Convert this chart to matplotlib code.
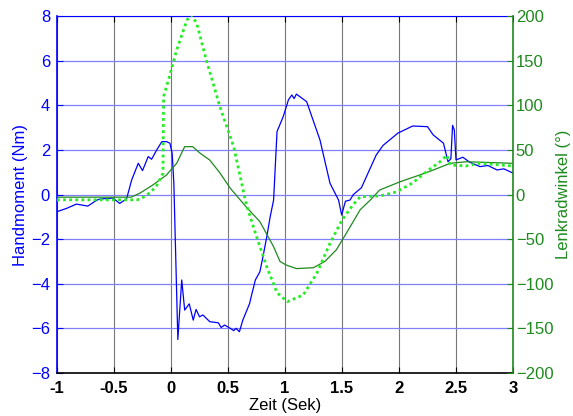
import matplotlib
matplotlib.use("Agg")
import matplotlib.pyplot as plt

plt.rcParams['font.family'] = ['Liberation Sans', 'DejaVu Sans']

# Handmoment (Nm), left axis
t_moment = [-1.0, -0.915, -0.83, -0.73, -0.65, -0.62, -0.51, -0.45, -0.39, -0.345, -0.287,
            -0.25, -0.2, -0.17, -0.125, -0.08, -0.04, -0.01, 0.01, 0.025, 0.06, 0.094, 0.12,
            0.16, 0.195, 0.22, 0.25, 0.28, 0.34, 0.415, 0.44, 0.47, 0.52, 0.55, 0.57, 0.60,
            0.63, 0.69, 0.70, 0.74, 0.78, 0.81, 0.84, 0.87, 0.90, 0.93, 0.985, 1.03, 1.06,
            1.08, 1.10, 1.19, 1.307, 1.395, 1.47, 1.497, 1.53, 1.57, 1.60, 1.67, 1.80, 1.86, 1.99,
            2.12, 2.25, 2.30, 2.39, 2.43, 2.455, 2.47, 2.485, 2.50, 2.56, 2.62, 2.71, 2.78,
            2.86, 2.92, 3.0]
moment = [-0.77, -0.62, -0.43, -0.52, -0.25, -0.2, -0.16, -0.4, -0.2, 0.65, 1.4,
          1.07, 1.7, 1.58, 2.0, 2.37, 2.37, 2.3, 1.85, 0.5, -6.5, -3.83, -5.18,
          -4.9, -5.63, -5.15, -5.48, -5.4, -5.7, -5.75, -5.96, -5.85, -6.0, -6.1, -6.0, -6.15,
          -5.63, -4.88, -4.65, -3.83, -3.46, -2.7, -1.9, -1.0, -0.25, 2.82, 3.5, 4.24, 4.46,
          4.3, 4.5, 4.16, 2.44, 0.5, -0.25, -0.92, -0.3, -0.25, 0.0, 0.3, 1.77, 2.2, 2.75,
          3.07, 3.04, 2.67, 2.3, 1.47, 1.6, 3.1, 2.9, 1.55, 1.67, 1.45, 1.25, 1.3,
          1.1, 1.15, 0.96]

# Lenkradwinkel measured (deg), right axis, dark green solid
t_angle = [-1.0, -0.35, -0.27, -0.16, -0.04, 0.05, 0.12, 0.19, 0.25, 0.34, 0.43, 0.52,
           0.66, 0.78, 0.90, 0.956, 1.01, 1.10, 1.25, 1.35, 1.45, 1.54, 1.66, 1.75, 1.83,
           2.01, 2.18, 2.30, 2.45, 2.59, 2.99]
angle = [-3, -3, 1.7, 10.6, 21.8, 35, 53.6, 53.6, 46.8, 38.6, 24, 7,
         -14, -30.5, -58.5, -75, -79, -83, -82, -75, -62, -43, -17, -6, 5,
         14.3, 21.8, 27.4, 35, 36.7, 35]

# Lenkradwinkel reference (deg), right axis, lime dotted
t_ref = [-1.0, -0.3, -0.27, -0.21, -0.13, -0.07, -0.065, -0.01, 0.05, 0.14, 0.18, 0.225,
         0.31, 0.43, 0.55, 0.66, 0.75, 0.84, 0.93, 1.02, 1.16, 1.28, 1.395, 1.50, 1.60,
         1.66, 1.83, 1.98, 2.12, 2.24, 2.36, 2.42, 2.45, 2.59, 2.71, 2.99]
ref = [-6, -6, -5, -0.5, 8.7, 24, 109.6, 134, 162, 195.5, 201, 192,
       150.7, 98, 53.6, -11, -47, -81, -110, -120, -112.6, -88, -54.6, -28.6, -11,
       -2.5, -1.7, 3, 13, 25.5, 36.7, 44, 33, 32, 35, 32]

x_ticks = [-1, -0.5, 0, 0.5, 1, 1.5, 2, 2.5, 3]
y_ticks_left = [-8, -6, -4, -2, 0, 2, 4, 6, 8]
y_ticks_right = [-200, -150, -100, -50, 0, 50, 100, 150, 200]

BLUE = '#0000ff'
DGREEN = '#1e8a1e'
LIME = '#22ee22'

fig = plt.figure(figsize=(5.73, 4.16), dpi=100)
ax = fig.add_axes([57/573, 1 - 373/416, 456/573, 357/416])
ax2 = ax.twinx()

ax.set_xlim(-1, 3)
ax.set_ylim(-8, 8)
ax2.set_ylim(-200, 200)

# grid
for xv in x_ticks:
    ax.axvline(xv, color='#777777', lw=0.8, zorder=0.5)
for yv in y_ticks_left:
    ax.axhline(yv, color='#8080ff', lw=0.9, zorder=0.5)

ax.plot(t_moment, moment, color=BLUE, lw=0.9, zorder=3)
ax2.plot(t_angle, angle, color=DGREEN, lw=0.9, zorder=3)
ax2.plot(t_ref, ref, color=LIME, lw=2.0, linestyle=(0, (1, 1.2)), zorder=3)

ax.set_xticks(x_ticks)
ax.set_xticklabels(['-1', '-0.5', '0', '0.5', '1', '1.5', '2', '2.5', '3'])
ax.set_yticks(y_ticks_left)
ax2.set_yticks(y_ticks_right)

ax.tick_params(axis='x', direction='in', length=4, labelsize=12, colors='black', top=True, pad=6)
ax.tick_params(axis='y', direction='in', length=4, labelsize=12, colors=BLUE, pad=5)
ax2.tick_params(axis='y', direction='in', length=4, labelsize=12, colors=DGREEN, pad=2)
for lbl in ax.get_xticklabels():
    lbl.set_fontweight('bold')
    lbl.set_color('black')

ax.spines['left'].set_color(BLUE)
ax.spines['bottom'].set_color('black')
ax.spines['top'].set_color(BLUE)
ax.spines['right'].set_visible(False)
ax2.spines['left'].set_visible(False)
ax2.spines['top'].set_visible(False)
ax2.spines['bottom'].set_visible(False)
ax2.spines['right'].set_color(DGREEN)
ax2.spines['right'].set_linewidth(1.2)
ax.spines['left'].set_linewidth(1.2)
ax.spines['bottom'].set_linewidth(1.2)

ax.set_xlabel('Zeit (Sek)', fontsize=12, color='black', labelpad=1)
ax.set_ylabel('Handmoment (Nm)', fontsize=12, color=BLUE, labelpad=2)
ax2.set_ylabel('Lenkradwinkel (°)', fontsize=12, color=DGREEN)
ax2.yaxis.set_label_coords(1.095, 0.5)

fig.savefig('out.png', dpi=100)
